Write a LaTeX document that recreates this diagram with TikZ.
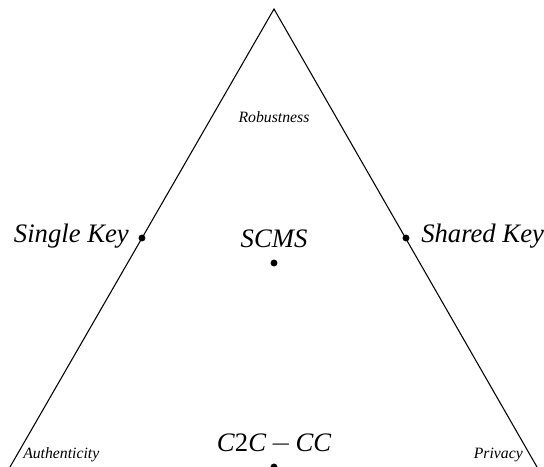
\documentclass[tikz,border=0pt]{standalone}
\usepackage{fontspec}
\setmainfont{Liberation Serif}

\tikzset{
  pointdot/.style={circle,fill,inner sep=0pt,minimum size=5.2pt},
  bigtext/.style={font=\fontsize{20}{23}\selectfont\itshape,inner sep=0pt},
  smalltext/.style={font=\fontsize{11.8}{14}\selectfont\itshape,inner sep=0pt}
}

\begin{document}
\begin{tikzpicture}[x=0.75pt,y=0.75pt,yscale=-1,xscale=1]
        \useasboundingbox (0,0) rectangle (544,467);
        % Corners
        \coordinate (apex) at (274,9);
        \coordinate (cornerL) at (10,467);
        \coordinate (cornerR) at (537,467);
        % Sides
        \draw [line width=0.8pt]  (cornerL) -- (apex) -- (cornerR) ;
        % Dots
        \node [pointdot] (single) at (142,238) {};
        \node [pointdot] (shared) at (406,238) {};
        \node [pointdot] (scms) at (274,263) {};
        \node [pointdot] (c2c) at (274,467) {};
        % Text Node
        \node [bigtext,anchor=base east] (singlelabel) at (129,243) {Single Key};
        % Text Node
        \node [bigtext,anchor=base west] (sharedlabel) at (421,243) {Shared Key};
        % Text Node
        \node [bigtext,anchor=base] (scmslabel) at (274,248) {SCMS};
        % Text Node
        \node [bigtext,anchor=base] (c2clabel) at (274,452) {C\textup{2}C\hspace{0.15em}\(-\)\hspace{0.15em}CC};
        % Text Node
        \node [smalltext,anchor=base] (robust) at (274,123) {Robustness};
        % Text Node
        \node [smalltext,anchor=base west] (auth) at (23,459) {Authenticity};
        % Text Node
        \node [smalltext,anchor=base east] (privacy) at (523,459) {Privacy};
\end{tikzpicture}
\end{document}
